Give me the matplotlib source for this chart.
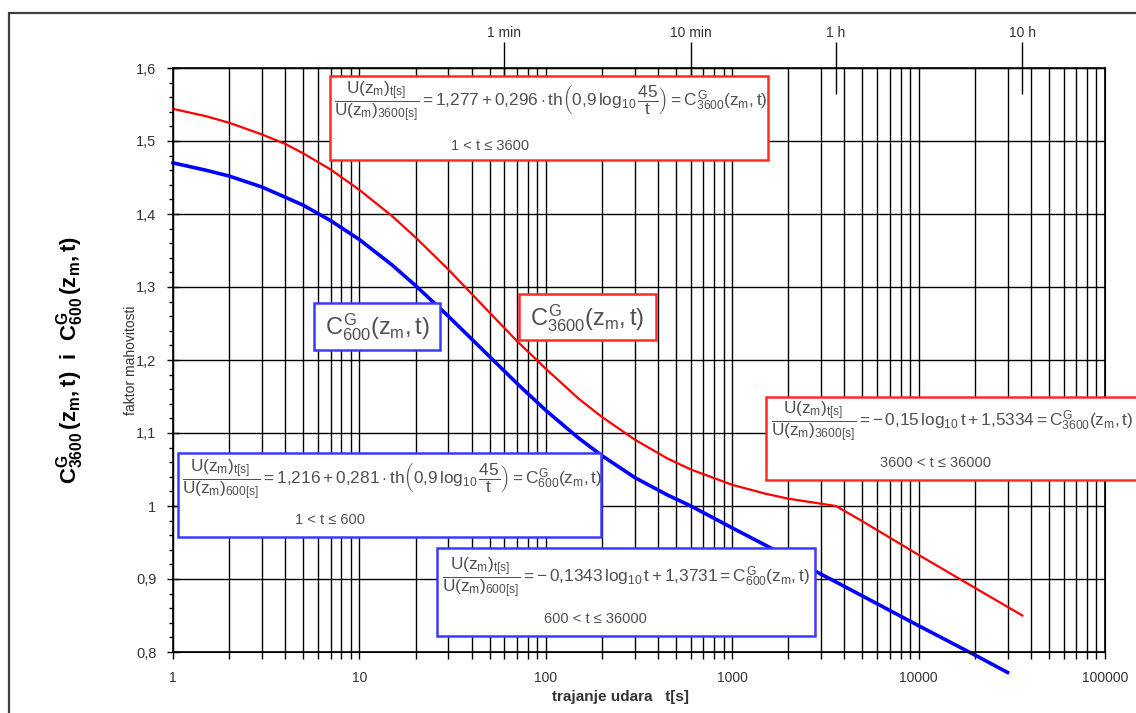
import numpy as np
import matplotlib
matplotlib.use('Agg')
import matplotlib.pyplot as plt
from matplotlib.patches import Rectangle
from matplotlib.ticker import FixedLocator, NullLocator, NullFormatter

plt.rcParams['font.family'] = ['Liberation Sans', 'DejaVu Sans']
plt.rcParams['mathtext.fontset'] = 'custom'
plt.rcParams['mathtext.rm'] = 'Liberation Sans'
plt.rcParams['mathtext.it'] = 'Liberation Sans'
plt.rcParams['mathtext.bf'] = 'Liberation Sans:bold'

# values
t_red = [1, 1.5, 2, 3, 4, 5, 7, 10, 15, 20, 30, 45, 70, 100, 150, 200, 300, 450, 600,
         1000, 1500, 2000, 3600, 5000, 10000, 20000, 36000]
c_red = [1.544, 1.534, 1.525, 1.509, 1.496, 1.483, 1.461, 1.433, 1.397, 1.368, 1.324, 1.277,
         1.226, 1.188, 1.147, 1.122, 1.091, 1.065, 1.050, 1.029, 1.017, 1.010, 1.000,
         0.979, 0.933, 0.888, 0.850]
t_blue = [1, 1.5, 2, 3, 4, 5, 7, 10, 15, 20, 30, 45, 70, 100, 150, 200, 300, 450, 600,
          1000, 2000, 3600, 10000, 20000, 30000]
c_blue = [1.470, 1.460, 1.452, 1.437, 1.423, 1.412, 1.391, 1.365, 1.330, 1.302, 1.260, 1.216,
          1.168, 1.131, 1.093, 1.069, 1.039, 1.015, 1.000,
          0.970, 0.930, 0.896, 0.836, 0.796, 0.772]

x_major = [1, 10, 100, 1000, 10000, 100000]
x_labels = ['1', '10', '100', '1000', '10000', '100000']
y_major = [0.8, 0.9, 1.0, 1.1, 1.2, 1.3, 1.4, 1.5, 1.6]
y_labels = ['0,8', '0,9', '1', '1,1', '1,2', '1,3', '1,4', '1,5', '1,6']
top_ticks = [60, 600, 3600, 36000]
top_labels = ['1 min', '10 min', '1 h', '10 h']

W, H = 1136, 713
def px(x, y):
    return x / W, 1 - y / H

fig = plt.figure(figsize=(W / 100, H / 100), dpi=100)
ax = fig.add_axes([173 / W, 1 - 652 / H, (1105 - 173) / W, (652 - 68) / H])

# outer frame
fig.add_artist(Rectangle(px(9, 760), (1200 - 9) / W, (760 - 13) / H, transform=fig.transFigure,
                         fill=False, edgecolor='#404040', lw=1.6, zorder=0.5))

ax.plot(t_red, c_red, color='#ff0000', lw=1.6, zorder=3, clip_on=False)
ax.plot(t_blue, c_blue, color='#0000ff', lw=2.6, zorder=3, clip_on=False)

ax.set_xscale('log')
ax.set_xlim(1, 100000)
ax.set_ylim(0.8, 1.6)
minors = [m * 10 ** k for k in range(5) for m in range(2, 10)]
ax.xaxis.set_major_locator(FixedLocator(x_major))
ax.xaxis.set_minor_locator(FixedLocator(minors))
ax.xaxis.set_minor_formatter(NullFormatter())
ax.set_xticks(x_major, x_labels)
ax.set_yticks(y_major, y_labels)
ax.yaxis.set_minor_locator(FixedLocator(np.arange(0.8, 1.601, 0.02)))
ax.grid(True, which='both', axis='x', color='black', lw=1.0)
ax.grid(True, which='major', axis='y', color='black', lw=1.0)
ax.tick_params(axis='x', which='both', direction='out', length=5, width=1, labelsize=10, pad=9, top=False)
ax.tick_params(axis='y', which='major', direction='inout', length=8, width=1, labelsize=10.5,
               pad=8, labelcolor='#333333')
ax.tick_params(axis='y', which='minor', direction='out', length=3, width=1)
ax.tick_params(axis='x', labelcolor='#333333')
for s in ax.spines.values():
    s.set_linewidth(1.2)

top = ax.twiny()
top.set_xscale('log')
top.set_xlim(1, 100000)
top.xaxis.set_major_locator(FixedLocator(top_ticks))
top.xaxis.set_minor_locator(NullLocator())
top.set_xticks(top_ticks, top_labels)
top.tick_params(axis='x', direction='inout', length=37, width=1, labelsize=10, pad=2, labelcolor='#333333')

fig.text(*px(620, 697), 'trajanje udara   t[s]', ha='center', va='center', fontsize=11,
         fontweight='bold', color='#333333')
fig.text(*px(131, 360), 'faktor mahovitosti', rotation=90, ha='center', va='center', fontsize=10,
         color='#333333')
fig.text(*px(70, 360), r'$\mathbf{C^{G}_{3600}\,(z_{m},t)}$  i  $\mathbf{C^{G}_{600}\,(z_{m},t)}$',
         rotation=90, ha='center', va='center', fontsize=16, fontweight='bold')

gray = '#505050'
def box(x0, y0, x1, y1, color):
    fig.add_artist(Rectangle(px(x0, y1), (x1 - x0) / W, (y1 - y0) / H, transform=fig.transFigure,
                             facecolor='white', edgecolor=color, lw=1.8, zorder=2))

def txt(x, y, s, size=12.4, ha='left'):
    fig.text(*px(x, y), s, ha=ha, va='center', fontsize=size, color=gray, zorder=4)

red_b = '#ff2a2a'
blue_b = '#3a3aff'

box(330, 76, 768, 160, red_b)
txt(334, 102, r'$\dfrac{U(z_{m})_{t[s]}}{U(z_{m})_{3600[s]}}=1{,}277+0{,}296\cdot\mathrm{th}\left(0{,}9\,\log_{10}\dfrac{45}{t}\right)=C^{G}_{3600}(z_{m},t)$')
txt(490, 146, '1 < t ≤ 3600', size=10.5, ha='center')

box(178, 453, 601, 537, blue_b)
txt(182, 480, r'$\dfrac{U(z_{m})_{t[s]}}{U(z_{m})_{600[s]}}=1{,}216+0{,}281\cdot\mathrm{th}\left(0{,}9\,\log_{10}\dfrac{45}{t}\right)=C^{G}_{600}(z_{m},t)$')
txt(330, 520, '1 < t ≤ 600', size=10.5, ha='center')

box(437, 548, 815, 636, blue_b)
txt(442, 578, r'$\dfrac{U(z_{m})_{t[s]}}{U(z_{m})_{600[s]}}=-\,0{,}1343\,\log_{10}t+1{,}3731=C^{G}_{600}(z_{m},t)$')
txt(595, 619, '600 < t ≤ 36000', size=10.5, ha='center')

box(766, 397, 1150, 480, red_b)
txt(771, 422, r'$\dfrac{U(z_{m})_{t[s]}}{U(z_{m})_{3600[s]}}=-\,0{,}15\,\log_{10}t+1{,}5334=C^{G}_{3600}(z_{m},t)$')
txt(935, 463, '3600 < t ≤ 36000', size=10.5, ha='center')

box(314, 303, 440, 350, blue_b)
txt(377, 327, r'$C^{G}_{600}(z_{m},t)$', size=17, ha='center')
box(519, 294, 656, 340, red_b)
txt(587, 318, r'$C^{G}_{3600}(z_{m},t)$', size=17, ha='center')

fig.savefig('out.png', dpi=100)
